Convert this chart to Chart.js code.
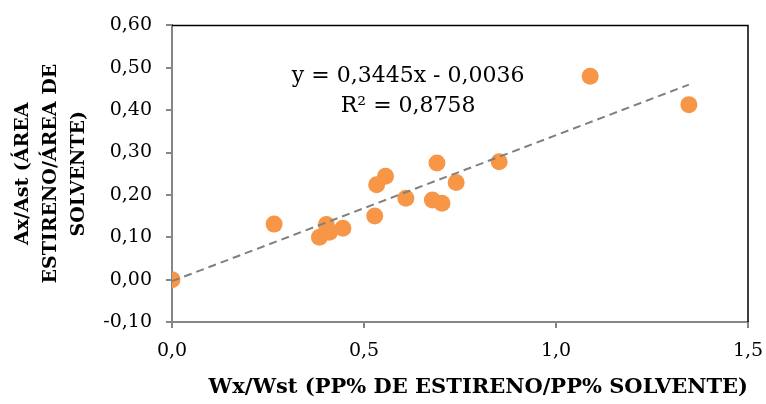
<!DOCTYPE html>
<html>
<head>
<meta charset="utf-8">
<script src="https://cdn.jsdelivr.net/npm/chart.js@4.4.1/dist/chart.umd.min.js"></script>
<style>
  body { margin: 0; background: #fff; }
</style>
</head>
<body>
<canvas id="chart" width="766" height="404"></canvas>
<script>
// Wx/Wst (x) and Ax/Ast (y) for each sample
const wRatio = [0, 0.266, 0.402, 0.384, 0.410, 0.445, 0.528, 0.533, 0.556, 0.609, 0.678, 0.703, 0.690, 0.740, 0.852, 1.089, 1.346];
const aRatio = [0, 0.131, 0.130, 0.100, 0.112, 0.121, 0.150, 0.224, 0.244, 0.192, 0.188, 0.180, 0.275, 0.229, 0.278, 0.480, 0.413];

// linear trendline shown on the chart
const slope = 0.3445;
const intercept = -0.0036;
const equationLines = ['y = 0,3445x - 0,0036', 'R² = 0,8758'];

const xTitle = 'Wx/Wst (PP% DE ESTIRENO/PP% SOLVENTE)';
const yTitle = ['Ax/Ast (ÁREA', 'ESTIRENO/ÁREA DE', 'SOLVENTE)'];

const points = wRatio.map((x, i) => ({ x: x, y: aRatio[i] }));
const xMin = Math.min(...wRatio);
const xMax = Math.max(...wRatio);
const trend = [
    { x: xMin, y: slope * xMin + intercept },
    { x: xMax, y: slope * xMax + intercept }
];

const serif = 'DejaVu Serif';

// comma decimals, and no "-0,00"
function fmt(v, d) {
    if (Math.abs(v) < 1e-9) v = 0;
    return v.toFixed(d).replace('.', ',');
}

// top/right frame and the trendline equation
const framePlugin = {
    id: 'frame',
    afterDraw(chart) {
        const { ctx, chartArea: a, scales } = chart;
        ctx.save();
        ctx.strokeStyle = '#000';
        ctx.lineWidth = 1.5;
        ctx.beginPath();
        ctx.moveTo(a.left, a.top);
        ctx.lineTo(a.right, a.top);
        ctx.lineTo(a.right, a.bottom);
        ctx.stroke();

        ctx.fillStyle = '#000';
        ctx.font = '22px "' + serif + '"';
        ctx.textAlign = 'center';
        ctx.textBaseline = 'middle';
        const cx = scales.x.getPixelForValue(0.615);
        ctx.fillText(equationLines[0], cx, scales.y.getPixelForValue(0.481));
        ctx.fillText(equationLines[1], cx, scales.y.getPixelForValue(0.409));
        ctx.restore();
    }
};

const axisColor = '#868686';

new Chart(document.getElementById('chart'), {
    type: 'scatter',
    data: {
        datasets: [
            {
                type: 'line',
                data: trend,
                borderColor: '#808080',
                borderWidth: 2,
                borderDash: [8, 5],
                pointRadius: 0,
                order: 0
            },
            {
                data: points,
                backgroundColor: '#F79646',
                borderWidth: 0,
                pointRadius: 8.5,
                pointHoverRadius: 8.5,
                order: 1
            }
        ]
    },
    options: {
        responsive: false,
        animation: false,
        devicePixelRatio: 1,
        layout: { padding: { left: 9, right: 18, top: 19, bottom: 4 } },
        plugins: {
            legend: { display: false },
            tooltip: { enabled: false }
        },
        scales: {
            x: {
                type: 'linear',
                min: 0,
                max: 1.5,
                afterFit: s => { s.height = 78; s.paddingLeft = 0; s.paddingRight = 0; },
                ticks: {
                    stepSize: 0.5,
                    color: '#000',
                    padding: 12,
                    font: { family: serif, size: 19 },
                    callback: v => fmt(v, 1)
                },
                grid: { drawOnChartArea: false, tickLength: 6, color: axisColor, lineWidth: 2 },
                border: { color: axisColor, width: 2 },
                title: {
                    display: true,
                    text: xTitle,
                    align: 'end',
                    color: '#000',
                    padding: { top: 0, bottom: 0 },
                    font: { family: serif, size: 21, weight: 'bold' }
                }
            },
            y: {
                min: -0.1,
                max: 0.6,
                afterFit: s => { s.width = 163; },
                ticks: {
                    stepSize: 0.1,
                    color: '#000',
                    padding: 14,
                    font: { family: serif, size: 19 },
                    callback: v => fmt(v, 2)
                },
                grid: { drawOnChartArea: false, tickLength: 6, color: axisColor, lineWidth: 2 },
                border: { color: axisColor, width: 2 },
                title: {
                    display: true,
                    text: yTitle,
                    color: '#000',
                    padding: { top: 0, bottom: 0 },
                    font: { family: serif, size: 19, weight: 'bold', lineHeight: 1.47 }
                }
            }
        }
    },
    plugins: [framePlugin]
});
</script>
</body>
</html>
